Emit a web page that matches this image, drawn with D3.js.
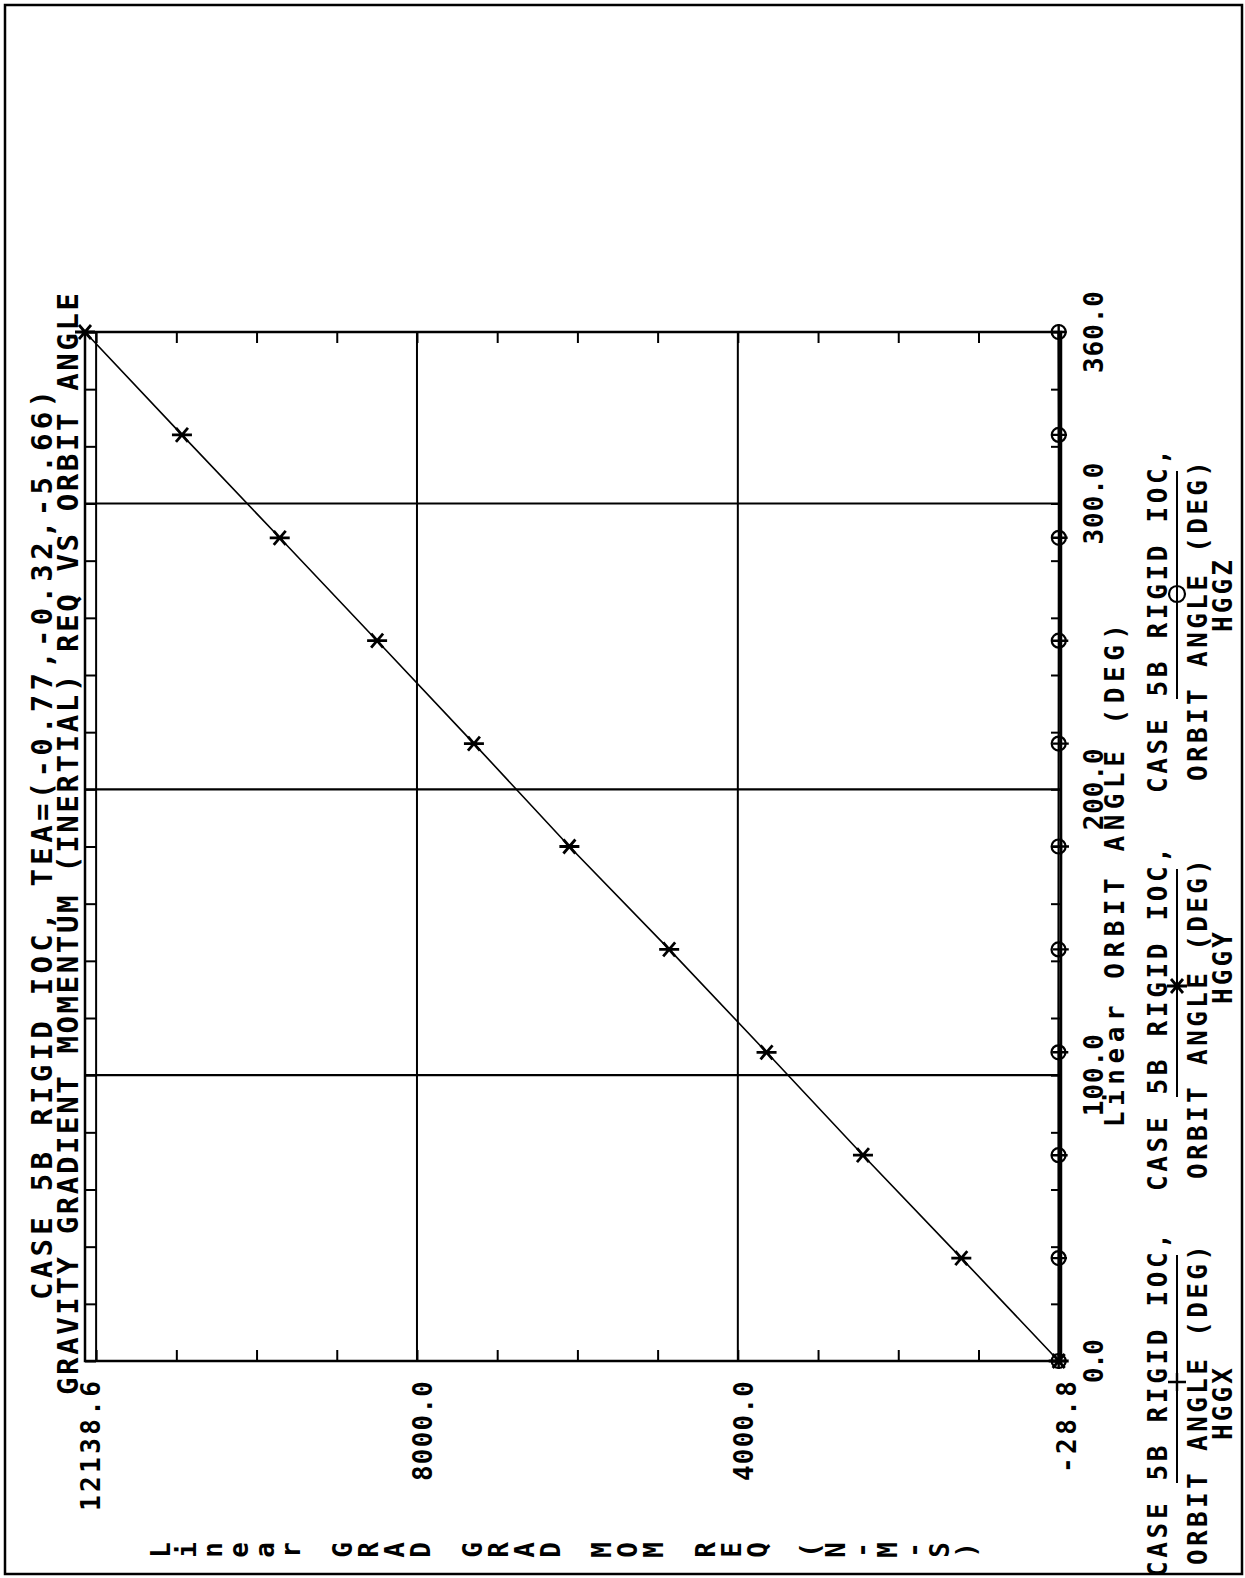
<!DOCTYPE html>
<html><head><meta charset="utf-8">
<script src="https://cdn.jsdelivr.net/npm/d3@7"></script>
<style>
body{margin:0;background:#fff}
text{font-family:"DejaVu Sans Mono",monospace;fill:#000;font-weight:bold}
</style>
</head><body>
<svg id="c" width="1245" height="1578"></svg>
<script>
// ---------- data ----------
const angles = [0, 36, 72, 108, 144, 180, 216, 252, 288, 324, 360];
const hggx   = [0, -4, -12, -20, -26, -28.8, -26, -20, -12, -4, 0];
const hggy   = [0, 1214, 2440, 3642, 4856, 6100, 7290, 8497, 9711, 10930, 12138.6];
const hggz   = [0, 1, 2, 3, 2, 1, 0, -1, -2, -1, 0];
const valueTickLabels = [12138.6, 8000.0, 4000.0, -28.8];
const angleTickLabels = [0.0, 100.0, 200.0, 300.0, 360.0];
const valueGrid = [4000, 8000, 12000];
const angleGrid = [100, 200, 300];
const titleLines = ["CASE 5B RIGID IOC,  TEA=(-0.77,-0.32,-5.66)",
                    "GRAVITY GRADIENT MOMENTUM (INERTIAL) REQ VS ORBIT ANGLE"];
const xAxisTitle = "Linear ORBIT ANGLE (DEG)";
const yAxisTitle = "Linear GRAD GRAD MOM REQ (N-M-S)";
const legendNames = ["HGGX", "HGGY", "HGGZ"];
const legendLine1 = "CASE 5B RIGID IOC,";
const legendLine2 = "ORBIT ANGLE (DEG)";

// ---------- layout ----------
const L = 85, R = 1061, T = 332, B = 1361;
const svg = d3.select("#c");
const ang = d3.scaleLinear().domain([0, 360]).range([B, T]);          // vertical
const val = d3.scaleLinear().domain([-28.8, 12138.6]).range([R, L]);  // horizontal (reversed)

function vtext(x, y, str, size, len, anchor) {
  const t = svg.append("text")
    .attr("transform", `translate(${x},${y}) rotate(-90)`)
    .attr("font-size", size)
    .attr("text-anchor", anchor || "start")
    .text(str);
  if (len) t.attr("textLength", len).attr("lengthAdjust", "spacing");
  return t;
}

// outer page border
svg.append("rect").attr("x", 5).attr("y", 5).attr("width", 1237).attr("height", 1569)
  .attr("fill", "none").attr("stroke", "#000").attr("stroke-width", 2.5);

// grid
svg.selectAll(".vg").data(valueGrid).enter().append("line")
  .attr("x1", d => val(d)).attr("x2", d => val(d)).attr("y1", T).attr("y2", B)
  .attr("stroke", "#000").attr("stroke-width", 2);
svg.selectAll(".ag").data(angleGrid).enter().append("line")
  .attr("y1", d => ang(d)).attr("y2", d => ang(d)).attr("x1", L).attr("x2", R)
  .attr("stroke", "#000").attr("stroke-width", 2.2);

// frame
svg.append("rect").attr("x", L).attr("y", T).attr("width", R - L).attr("height", B - T)
  .attr("fill", "none").attr("stroke", "#000").attr("stroke-width", 2.5);

// axes ticks (inward)
const valTicks = d3.range(1000, 12001, 1000);
const angTicks = d3.range(0, 361, 20);
function styleAxis(g) {
  g.select(".domain").remove();
  g.selectAll(".tick line").attr("stroke", "#000").attr("stroke-width", 2);
  g.selectAll(".tick text").remove();
}
svg.append("g").attr("transform", `translate(0,${T})`)
  .call(d3.axisBottom(val).tickValues(valTicks).tickSize(11).tickFormat("")).call(styleAxis);
svg.append("g").attr("transform", `translate(0,${B})`)
  .call(d3.axisTop(val).tickValues(valTicks).tickSize(11).tickFormat("")).call(styleAxis);
svg.append("g").attr("transform", `translate(${L},0)`)
  .call(d3.axisRight(ang).tickValues(angTicks).tickSize(11).tickFormat("")).call(styleAxis);
svg.append("g").attr("transform", `translate(${R},0)`)
  .call(d3.axisLeft(ang).tickValues(angTicks).tickSize(10).tickFormat("")).call(styleAxis);

// series lines
const line = d3.line().x(d => val(d[1])).y(d => ang(d[0]));
[hggx, hggz].forEach(s => {
  svg.append("path").datum(angles.map((a, i) => [a, s[i]])).attr("d", line)
    .attr("fill", "none").attr("stroke", "#000").attr("stroke-width", 2.2);
});
svg.append("path").datum(angles.map((a, i) => [a, hggy[i]])).attr("d", line)
  .attr("fill", "none").attr("stroke", "#000").attr("stroke-width", 1.6);

// markers
function plus(g, x, y, r) {
  g.append("path").attr("d", `M${x - r},${y}H${x + r}M${x},${y - r}V${y + r}`)
    .attr("stroke", "#000").attr("stroke-width", 2.4).attr("fill", "none");
}
function circ(g, x, y, r) {
  g.append("circle").attr("cx", x).attr("cy", y).attr("r", r)
    .attr("stroke", "#000").attr("stroke-width", 2.2).attr("fill", "none");
}
function star(g, x, y) {
  g.append("path").attr("d",
    `M${x - 10},${y}H${x + 10}M${x - 6},${y - 7}L${x + 6},${y + 7}M${x - 6},${y + 7}L${x + 6},${y - 7}`)
    .attr("stroke", "#000").attr("stroke-width", 2.8).attr("fill", "none");
}
angles.forEach((a, i) => {
  plus(svg, val(hggx[i]), ang(a), 8);
  circ(svg, val(hggz[i]), ang(a), 7);
  star(svg, val(hggy[i]), ang(a));
});

// titles
vtext(52, 1300, titleLines[0], 29, 910);
vtext(78, 1395, titleLines[1], 29, 1102);

// value tick labels (below plot)
const valLabelLen = {"12138.6": 130, "8000.0": 100, "4000.0": 100, "-28.8": 92};
valueTickLabels.forEach(v => {
  const s = v.toFixed(1);
  vtext(val(v) + 15, 1381 + valLabelLen[s], s, 26, valLabelLen[s]);
});
// angle tick labels (right of plot)
angleTickLabels.forEach(a => {
  const s = a.toFixed(1);
  const len = s.length === 3 ? 44 : 82;
  vtext(1103, ang(a) + len / 2, s, 26, len);
});
vtext(1124, 1127, xAxisTitle, 26, 503);

// y-axis title: individually rotated characters along the bottom
const chars = yAxisTitle.split("");
const cx = d3.scaleLinear().domain([0, chars.length - 1]).range([161, 966]);
chars.forEach((ch, i) => {
  if (ch === " ") return;
  svg.append("text").attr("transform", `translate(${cx(i) + 9},1550) rotate(-90)`)
    .attr("font-size", 26).attr("text-anchor", "middle").text(ch);
});

// legend
const legendCenters = [1405, 1019, 621];
const legendNameY = [1404, 968, 596];
const legendMarkY = [1382, 986, 594];
legendCenters.forEach((c, i) => {
  vtext(1167, c + 172, legendLine1, 26, 344);
  vtext(1207, c + 160, legendLine2, 26, 320);
  vtext(1232, legendNameY[i] + 36, legendNames[i], 26, 72);
  svg.append("line").attr("x1", 1177).attr("x2", 1177).attr("y1", c - 150).attr("y2", c + 78)
    .attr("stroke", "#000").attr("stroke-width", 2);
  const my = legendMarkY[i];
  if (i === 0) plus(svg, 1177, my, 9);
  if (i === 1) star(svg, 1177, my);
  if (i === 2) circ(svg, 1177, my, 8);
});
</script>
</body></html>
